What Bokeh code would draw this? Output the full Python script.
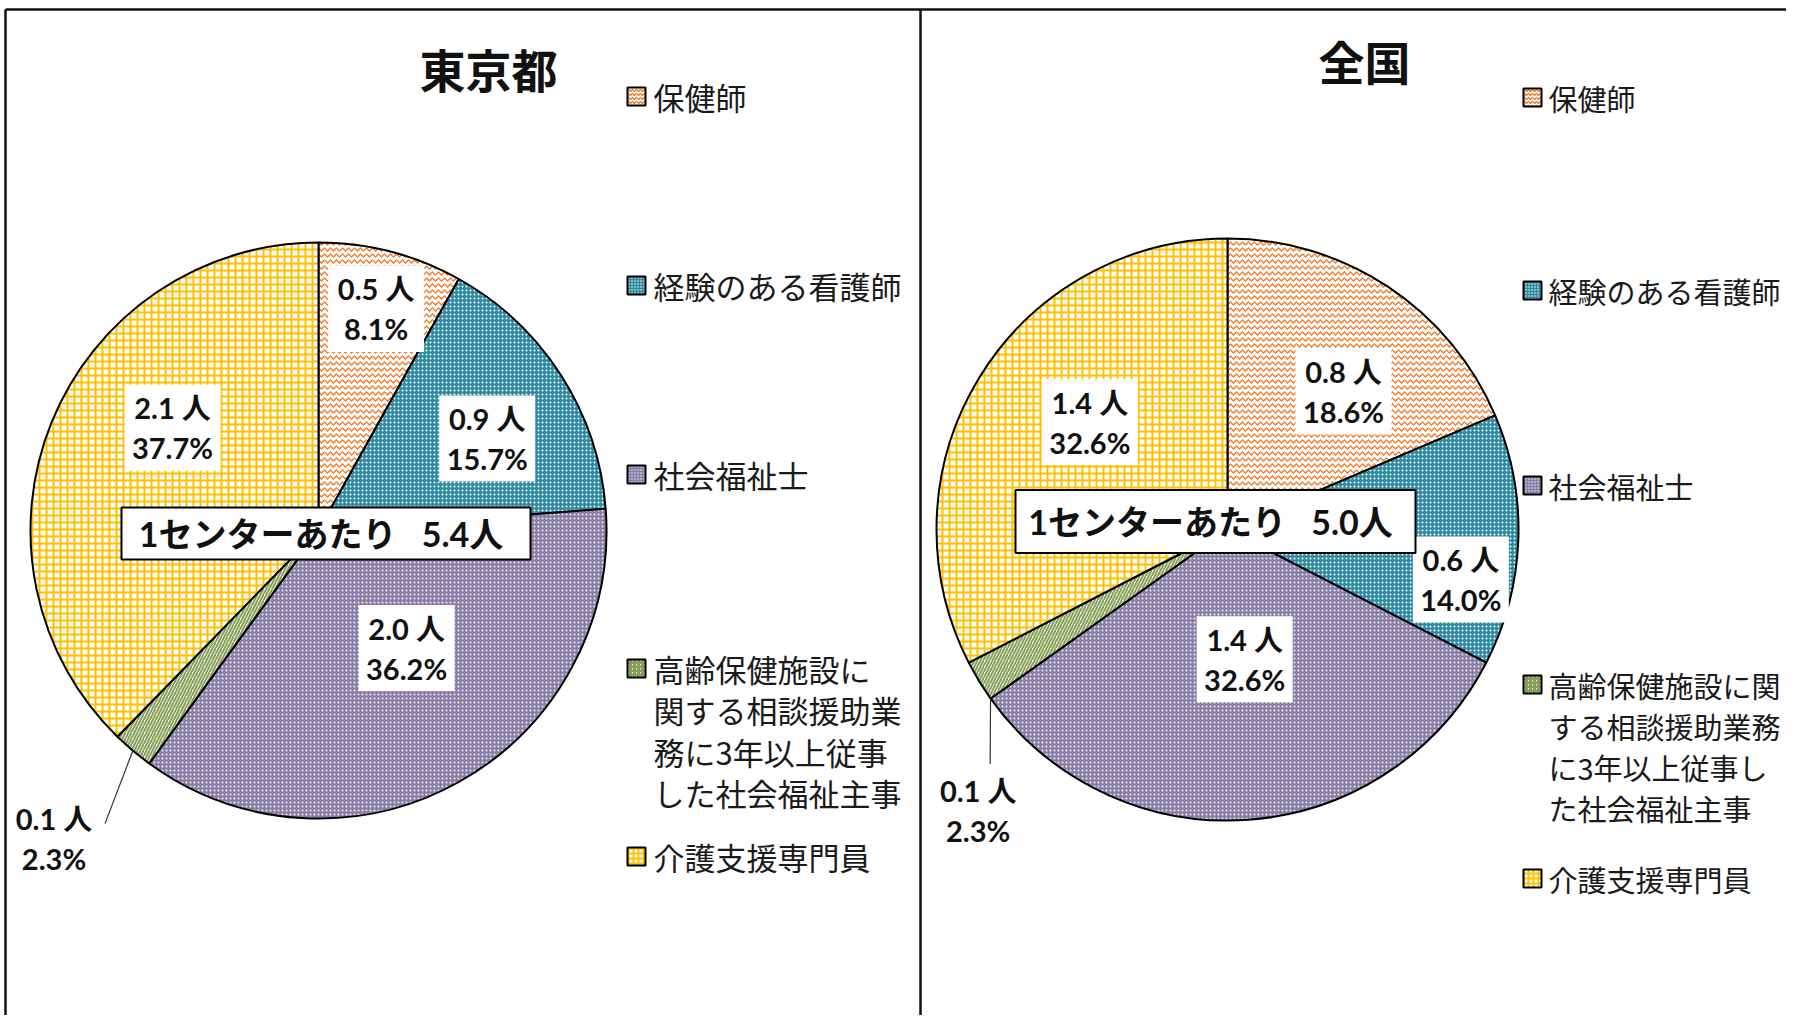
import math
from bokeh.plotting import figure
from bokeh.models import ColumnDataSource, Range1d
from bokeh.core.properties import value
from bokeh.embed import file_html
from bokeh.resources import INLINE

# ---------------- data ----------------
categories = ["保健師", "経験のある看護師", "社会福祉士",
              "高齢保健施設に関する相談援助業務に3年以上従事した社会福祉主事",
              "介護支援専門員"]
panel_titles = ["東京都", "全国"]
tokyo_people = [0.5, 0.9, 2.0, 0.1, 2.1]
tokyo_pct = [8.1, 15.7, 36.2, 2.3, 37.7]
national_people = [0.8, 0.6, 1.4, 0.1, 1.4]
national_pct = [18.6, 14.0, 32.6, 2.3, 32.6]
totals = [5.4, 5.0]
total_label = "1センターあたり"
unit = "人"
tokyo_legend_lines = [["保健師"], ["経験のある看護師"], ["社会福祉士"],
                      ["高齢保健施設に", "関する相談援助業", "務に3年以上従事", "した社会福祉主事"],
                      ["介護支援専門員"]]
national_legend_lines = [["保健師"], ["経験のある看護師"], ["社会福祉士"],
                         ["高齢保健施設に関", "する相談援助業務", "に3年以上従事し", "た社会福祉主事"],
                         ["介護支援専門員"]]

# ---------------- styles ----------------
FONT_CJK = "'Noto Sans CJK JP'"
FONT_MIX = "Lato, 'Noto Sans CJK JP'"
fill_colors = ["white", "#2F8AA1", "#887EA5", "white", "white"]
hatch_patterns = ["horizontal_wave", "dot", "dot", "right_diagonal_line", "cross"]
hatch_colors = ["#F07A2A", "#FFFFFF", "#F2F0F7", "#86A058", "#FFC000"]
hatch_scales = [6, 4, 4, 6, 7]
hatch_weights = [1.3, 1.0, 1.1, 2.0, 2.0]

W, H = 1786, 1015
REF_H = 1031


def Y(ref_y):
    return REF_H - ref_y


p = figure(width=W, height=H, x_range=Range1d(0, W), y_range=Range1d(REF_H - H, REF_H),
           output_backend="svg", toolbar_location=None, min_border=0)
p.axis.visible = False
p.grid.visible = False
p.outline_line_color = None
p.background_fill_color = "white"
p.border_fill_color = "white"

# frame
p.line([5, W], [Y(9), Y(9)], line_color="#111111", line_width=2.5)
p.line([5, 5], [Y(9), Y(1031)], line_color="#111111", line_width=2.5)
p.line([920, 920], [Y(9), Y(1031)], line_color="#111111", line_width=2.5)

panels = [
    dict(people=tokyo_people, pct=tokyo_pct, total=totals[0], title=panel_titles[0],
         legend=tokyo_legend_lines, cx=318, cy=530, r=288, title_pos=(488, 67),
         leg_sq_x=636, leg_tx=653, leg_ys=[96, 285, 474, 668, 856], leg_font="31px",
         lab=[(0.795, 0.0), (0.667, 4.0), (0.51, -7.7), None, (0.62, 13.0)],
         out=(1.41, 0.5), leader=(0.0, (51, -15)),
         box=(325.5, 533, 409, 52)),
    dict(people=national_people, pct=national_pct, total=totals[1], title=panel_titles[1],
         legend=national_legend_lines, cx=1227, cy=529, r=291, title_pos=(1364, 59),
         leg_sq_x=1532, leg_tx=1548, leg_ys=[97, 290, 485, 684, 878], leg_font="29px",
         lab=[(0.62, 6.6), (0.82, 10.0), (0.45, -3.4), None, (0.60, 6.6)],
         out=(1.29, -17.0), leader=(-4.1, (12, -46)),
         box=(1215, 521, 400, 63)),
]

for pn in panels:
    cx, cy, r = pn["cx"], Y(pn["cy"]), pn["r"]
    tot = sum(pn["pct"])
    cum = [0.0]
    for v in pn["pct"]:
        cum.append(cum[-1] + v / tot)
    starts = [math.pi / 2 - 2 * math.pi * c for c in cum[:-1]]
    ends = [math.pi / 2 - 2 * math.pi * c for c in cum[1:]]
    src = ColumnDataSource(dict(start=starts, end=ends, fill=fill_colors, hp=hatch_patterns,
                                hc=hatch_colors, hs=hatch_scales, hw=hatch_weights))
    p.wedge(x=cx, y=cy, radius=r, start_angle="start", end_angle="end", direction="clock",
            source=src, fill_color="fill", hatch_pattern="hp", hatch_color="hc",
            hatch_scale="hs", hatch_weight="hw", line_color="black", line_width=2)

    # data labels
    bx, by, t1, t2 = [], [], [], []
    ox, oy, o1, o2 = [], [], [], []
    for i in range(len(pn["pct"])):
        mid = (cum[i] + cum[i + 1]) / 2 * 360
        line1 = f"{pn['people'][i]:.1f} {unit}"
        line2 = f"{pn['pct'][i]:.1f}%"
        lay = pn["lab"][i]
        if lay is not None:
            rf, dth = lay
            th = math.radians(mid + dth)
            x = cx + rf * r * math.sin(th)
            y = cy + rf * r * math.cos(th)
            bx.append(x); by.append(y)
            t1.append(line1); t2.append(line2)
        else:
            rf, dth = pn["out"]
            th = math.radians(mid + dth)
            x = cx + rf * r * math.sin(th)
            y = cy + rf * r * math.cos(th)
            ox.append(x); oy.append(y); o1.append(line1); o2.append(line2)
            la, (ex, ey) = pn["leader"]
            tl = math.radians(mid + la)
            sx = cx + r * math.sin(tl)
            sy = cy + r * math.cos(tl)
            p.line([sx, x + ex], [sy, y - ey], line_color="#333333", line_width=1.2)
    p.rect(x=bx, y=by, width=96, height=86, fill_color="white", line_color=None)
    for xs, ys, a, b in [(bx, by, t1, t2), (ox, oy, o1, o2)]:
        p.text(x=xs, y=[v + 20 for v in ys], text=a, text_font=value(FONT_MIX),
               text_font_size="29px", text_font_style="bold", text_align="center",
               text_baseline="middle", text_color="#111111")
        p.text(x=xs, y=[v - 20 for v in ys], text=b, text_font=value(FONT_MIX),
               text_font_size="29px", text_font_style="bold", text_align="center",
               text_baseline="middle", text_color="#111111")

    # center total box
    bxc, byc, bw, bh = pn["box"]
    p.rect(x=[bxc], y=[Y(byc)], width=bw, height=bh, fill_color="white",
           line_color="black", line_width=2)
    p.text(x=[bxc - 5], y=[Y(byc)], text=[f"{total_label}\u2002 {pn['total']:.1f}{unit}"],
           text_font=value(FONT_MIX), text_font_size="34px", text_font_style="bold",
           text_align="center", text_baseline="middle", text_color="#111111")

    # title
    p.text(x=[pn["title_pos"][0]], y=[Y(pn["title_pos"][1])], text=[pn["title"]],
           text_font=value(FONT_CJK), text_font_size="46px", text_font_style="bold",
           text_align="center", text_baseline="middle", text_color="#111111")

    # legend
    lsrc = ColumnDataSource(dict(x=[pn["leg_sq_x"]] * 5, y=[Y(v) for v in pn["leg_ys"]],
                                 fill=fill_colors, hp=hatch_patterns, hc=hatch_colors,
                                 hs=[max(3, s - 2) for s in hatch_scales], hw=hatch_weights))
    p.rect(x="x", y="y", width=18, height=18, source=lsrc, fill_color="fill",
           hatch_pattern="hp", hatch_color="hc", hatch_scale="hs", hatch_weight="hw",
           line_color="black", line_width=2)
    tx, ty, tt = [], [], []
    for i, lines in enumerate(pn["legend"]):
        for k, ln in enumerate(lines):
            tx.append(pn["leg_tx"])
            ty.append(Y(pn["leg_ys"][i] + k * 41.3))
            tt.append(ln)
    p.text(x=tx, y=ty, text=tt, text_font=value(FONT_CJK), text_font_size=pn["leg_font"],
           text_align="left", text_baseline="middle", text_color="#1A1A1A")

open("out.html", "w").write(file_html(p, INLINE))
